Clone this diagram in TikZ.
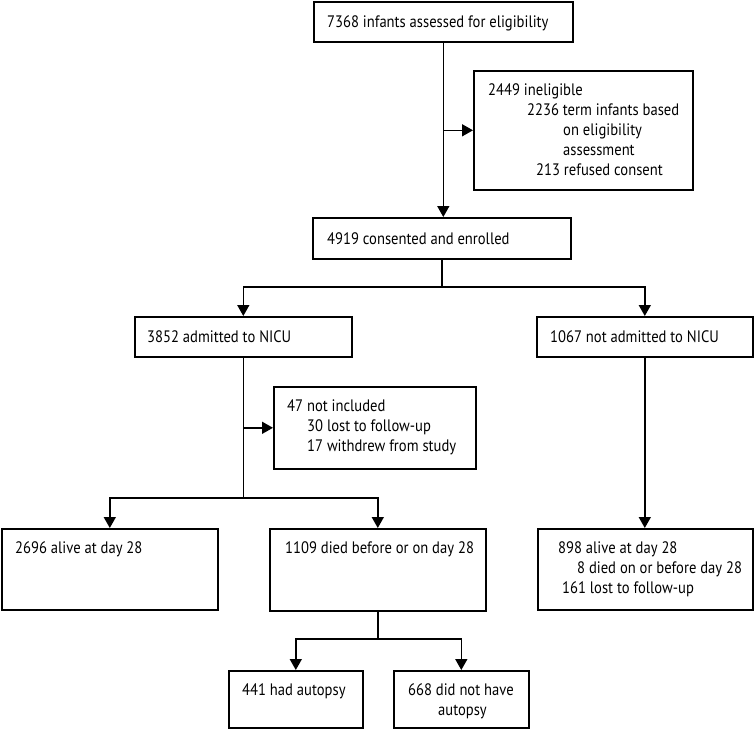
\documentclass[tikz,border=0pt]{standalone}
\usepackage{fontspec}
\setmainfont{PT Sans}[FakeStretch=0.88]
\usetikzlibrary{arrows.meta}
\tikzset{
  box/.style={draw, line width=1.6pt, inner sep=0pt, anchor=north west},
  txt/.style={anchor=base west, inner sep=0pt, font=\fontsize{16.6}{20}\selectfont},
  conn/.style={line width=1.6pt},
  arr/.style={conn, -{Triangle[length=11pt,width=12pt]}},
}
\begin{document}
\begin{tikzpicture}[x=1pt,y=-1pt]
\useasboundingbox (0,0) rectangle (755,729);
% boxes
\node[box, minimum width=259pt, minimum height=40pt] (b1) at (313,1) {};
\node[box, minimum width=219pt, minimum height=119pt] (inel) at (473,70) {};
\node[box, minimum width=258pt, minimum height=41pt] (enr) at (312,217) {};
\node[box, minimum width=217pt, minimum height=40pt] (nicu) at (134,316) {};
\node[box, minimum width=216pt, minimum height=40pt] (nonicu) at (536,316) {};
\node[box, minimum width=202pt, minimum height=82pt] (notinc) at (273,386) {};
\node[box, minimum width=216pt, minimum height=81pt] (alive) at (1,528) {};
\node[box, minimum width=216pt, minimum height=82pt] (died) at (269,528) {};
\node[box, minimum width=215pt, minimum height=81pt] (right) at (537,528) {};
\node[box, minimum width=134pt, minimum height=57pt] (aut) at (228,670) {};
\node[box, minimum width=135pt, minimum height=57pt] (noaut) at (393,670) {};
% texts
\node[txt] (t1) at (327,27) {7368 infants assessed for eligibility};
\node[txt] (t2a) at (488,95) {2449 ineligible};
\node[txt] (t2b) at (527,115) {2236 term infants based};
\node[txt] (t2c) at (563,135) {on eligibility};
\node[txt] (t2d) at (563,155) {assessment};
\node[txt] (t2e) at (536,175) {213 refused consent};
\node[txt] (t3) at (327,244) {4919 consented and enrolled};
\node[txt] (t4) at (147,342) {3852 admitted to NICU};
\node[txt] (t5) at (550,342) {1067 not admitted to NICU};
\node[txt] (t6a) at (287,411) {47 not included};
\node[txt] (t6b) at (307,431) {30 lost to follow-up};
\node[txt] (t6c) at (307,451) {17 withdrew from study};
\node[txt] (t7) at (15,553) {2696 alive at day 28};
\node[txt] (t8) at (285,553) {1109 died before or on day 28};
\node[txt] (t9a) at (558,553) {898 alive at day 28};
\node[txt] (t9b) at (577,573) {8 died on or before day 28};
\node[txt] (t9c) at (562,593) {161 lost to follow-up};
\node[txt] (t10) at (242,695) {441 had autopsy};
\node[txt] (t11a) at (408,695) {668 did not have};
\node[txt] (t11b) at (438,715) {autopsy};
% connectors
\draw[arr] (b1.south) -- (b1.south |- enr.north);
\coordinate (j1) at (b1.south |- inel.west);
\draw[arr] (j1) -- (inel.west);
\draw[conn] (enr.south) -- (enr.south |- 0,287) coordinate (s1);
\draw[arr] (s1) -| (nicu.north);
\draw[arr] (s1) -| (nonicu.north);
\coordinate (j2) at (nicu.south |- notinc.west);
\draw[arr] (j2) -- (notinc.west);
\draw[conn] (nicu.south) -- (nicu.south |- 0,498) coordinate (s2);
\draw[arr] (s2) -| (alive.north);
\draw[arr] (s2) -| (died.north);
\draw[arr] (nonicu.south) -- (nonicu.south |- right.north);
\draw[conn] (died.south) -- (died.south |- 0,639) coordinate (s3);
\draw[arr] (s3) -| (aut.north);
\draw[arr] (s3) -| (noaut.north);
\end{tikzpicture}
\end{document}
